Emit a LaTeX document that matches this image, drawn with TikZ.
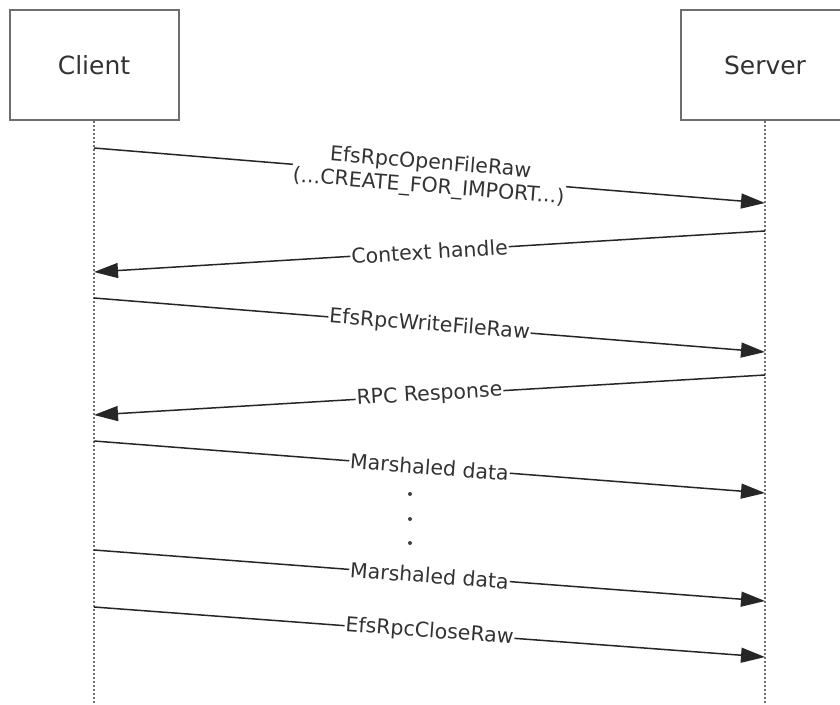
\documentclass[tikz,border=0pt]{standalone}
\usepackage{fontspec}
\setmainfont{DejaVu Sans}
\usepackage{tikz}
\usetikzlibrary{arrows.meta}
\definecolor{boxgray}{RGB}{110,110,110}
\definecolor{textgray}{RGB}{51,51,51}

\begin{document}
\begin{tikzpicture}[
  x=1pt, y=-1pt,
  font=\fontsize{20.5}{23.5}\selectfont,
  actor/.style={rectangle, draw=boxgray, line width=2pt, minimum width=169pt, minimum height=110pt, text=textgray, font=\fontsize{25}{28}\selectfont},
  lifeline/.style={draw=boxgray, line width=2.2pt, dash pattern=on 2pt off 2pt},
  msg/.style={-{Triangle[length=24pt,width=15pt]}, line width=1.5pt, draw=black!85},
  lbl/.style={midway, sloped, fill=white, inner sep=1pt, text=textgray, align=center},
  dot/.style={circle, fill=black!75, inner sep=0pt, minimum size=4pt}
]
  \useasboundingbox (0,0) rectangle (840,704);

  % Actors
  \node[actor] (client) at (94,65) {Client};
  \node[actor] (server) at (765,65) {Server};

  % Lifelines
  \coordinate (client end) at (94,704);
  \coordinate (server end) at (765,704);
  \draw[lifeline] (client.south) -- (client end);
  \draw[lifeline] (server.south) -- (server end);

  % Message ends
  \coordinate (c1) at (94,148);  \coordinate (s1) at (765,203);
  \coordinate (s2) at (765,231); \coordinate (c2) at (94,272);
  \coordinate (c3) at (94,298);  \coordinate (s3) at (765,352);
  \coordinate (s4) at (765,375); \coordinate (c4) at (94,415);
  \coordinate (c5) at (94,441);  \coordinate (s5) at (765,493);
  \coordinate (c6) at (94,550);  \coordinate (s6) at (765,601);
  \coordinate (c7) at (94,607);  \coordinate (s7) at (765,657);

  % Messages
  \draw[msg] (c1) -- node[lbl] {EfsRpcOpenFileRaw\\(...CREATE\_FOR\_IMPORT...)} (s1);
  \draw[msg] (s2) -- node[lbl] {Context handle} (c2);
  \draw[msg] (c3) -- node[lbl] {EfsRpcWriteFileRaw} (s3);
  \draw[msg] (s4) -- node[lbl] {RPC Response} (c4);
  \draw[msg] (c5) -- node[lbl] {Marshaled data} (s5);
  \draw[msg] (c6) -- node[lbl] {Marshaled data} (s6);
  \draw[msg] (c7) -- node[lbl] {EfsRpcCloseRaw} (s7);

  % Gap between the data messages
  \node[dot] (gap1) at (410,494) {};
  \node[dot] (gap2) at (410,519) {};
  \node[dot] (gap3) at (410,543) {};

\end{tikzpicture}
\end{document}
